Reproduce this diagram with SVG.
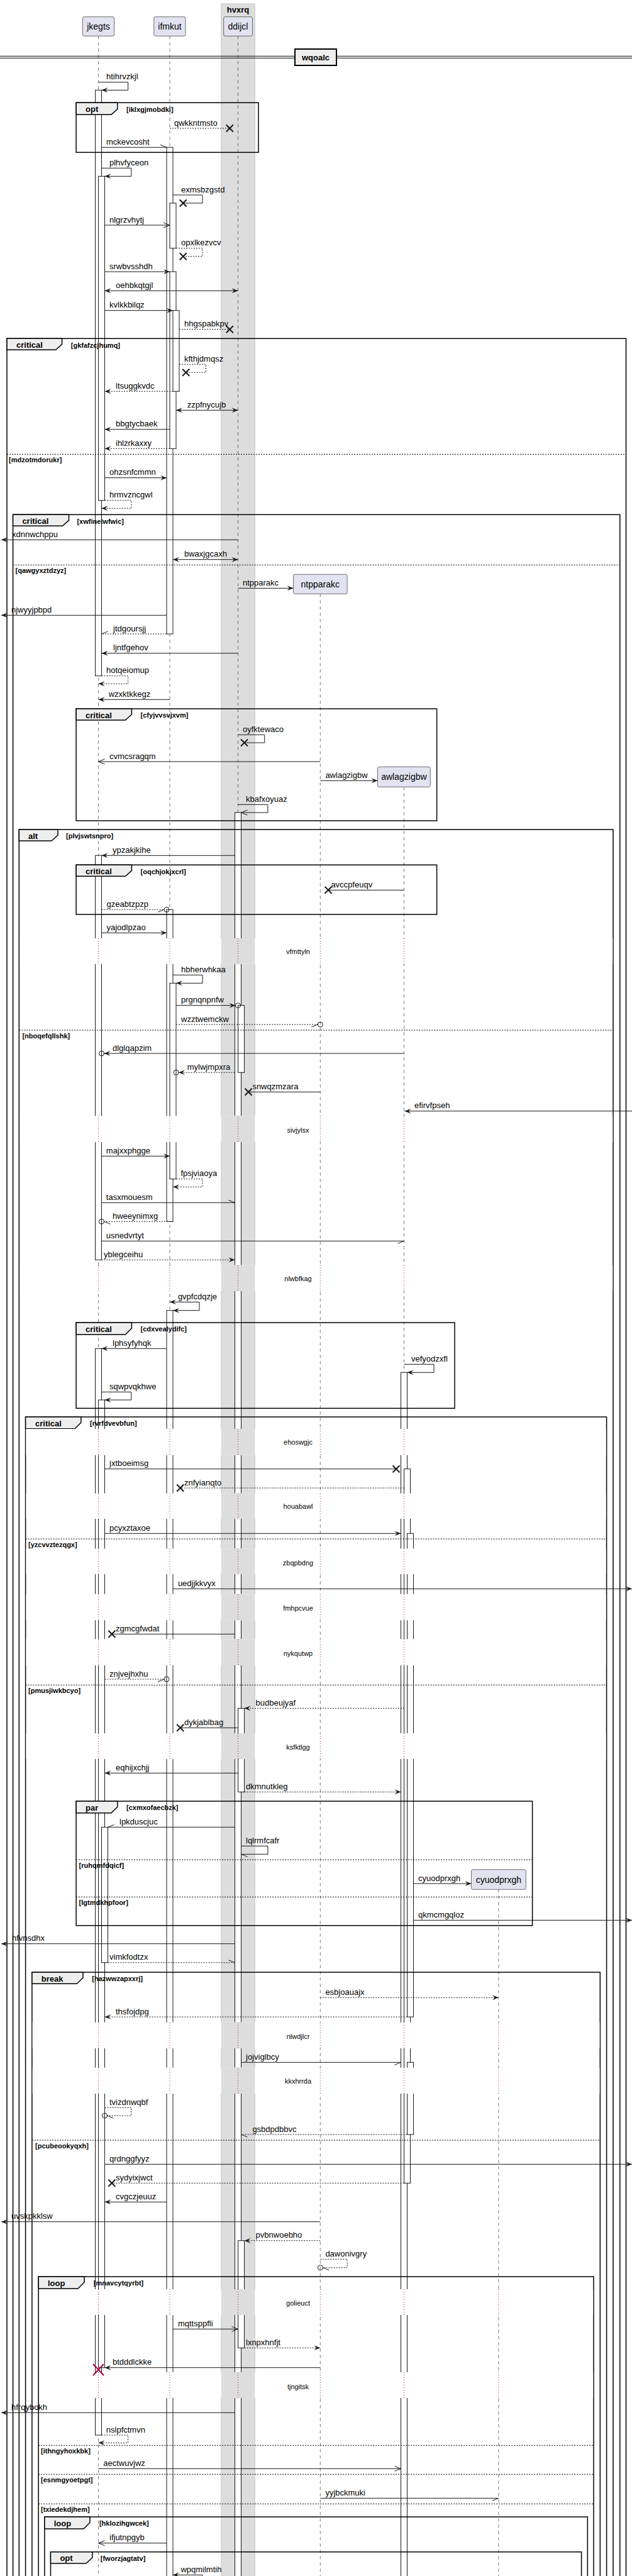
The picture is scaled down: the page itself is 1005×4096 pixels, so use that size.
<svg xmlns="http://www.w3.org/2000/svg" xmlns:xlink="http://www.w3.org/1999/xlink" width="1005" height="4096" viewBox="0 0 1005 4096">
<style>
.ll{stroke:#181818;stroke-width:.6;stroke-dasharray:5,5;fill:none}
.act{fill:#fff;stroke:#181818;stroke-width:1}
.m{fill:none;stroke:#181818;stroke-width:1}
.d{stroke-dasharray:2,2}
.fr{fill:none;stroke:#000;stroke-width:1.5}
.tab{fill:#EEEEEE;stroke:#000;stroke-width:1.5}
.sep{stroke:#000;stroke-width:1;stroke-dasharray:2,2}
.part{fill:#E2E2F0;stroke:#181818;stroke-width:.6}
.t{font-family:"Liberation Sans",Arial,sans-serif;font-size:13px;fill:#000}
.pn{font-size:14px;text-anchor:middle}
.ft{font-weight:bold;font-size:13px}
.fc{font-weight:bold;font-size:11px}
.dt{font-size:11px;text-anchor:middle}
.dly{stroke:#A80036;stroke-width:1;stroke-dasharray:1,3}
.circ{fill:none;stroke:#181818;stroke-width:1}
</style>
<defs>
<marker id="fa" markerWidth="12" markerHeight="10" refX="10" refY="4" orient="auto-start-reverse" markerUnits="userSpaceOnUse" overflow="visible"><path d="M0,0 L10,4 L0,8 L4,4 Z" fill="#181818" stroke="none"/></marker>
<marker id="oa" markerWidth="12" markerHeight="10" refX="10" refY="4" orient="auto" markerUnits="userSpaceOnUse" overflow="visible"><path d="M0,0 L10,4 L0,8" fill="none" stroke="#181818" stroke-width="1"/></marker>
<marker id="hn" markerWidth="12" markerHeight="10" refX="10" refY="4" orient="auto" markerUnits="userSpaceOnUse" overflow="visible"><path d="M0,0 L10,4" fill="none" stroke="#181818" stroke-width="1"/></marker>
<marker id="hp" markerWidth="12" markerHeight="10" refX="10" refY="4" orient="auto" markerUnits="userSpaceOnUse" overflow="visible"><path d="M0,8 L10,4" fill="none" stroke="#181818" stroke-width="1"/></marker>
<path id="xm" d="M-5.5,-5.5 L5.5,5.5 M-5.5,5.5 L5.5,-5.5" fill="none" stroke="#181818" stroke-width="2"/>
</defs>
<rect width="1005" height="4096" fill="#fff"/>
<g id="box-hvxrq">
<rect x="351.8" y="6" width="53.5" height="4200" fill="#DDDDDD" stroke="#C8C8C8" stroke-width="1"/>
<text class="t ft" x="378.5" y="19.5" text-anchor="middle">hvxrq</text>
</g>
<g id="lifelines">
<line class="ll" x1="156.5" y1="57.3" x2="156.5" y2="4200"/>
<line class="ll" x1="270" y1="57.3" x2="270" y2="4200"/>
<line class="ll" x1="378.5" y1="57.3" x2="378.5" y2="4200"/>
<line class="ll" x1="509.3" y1="944.3" x2="509.3" y2="4200"/>
<line class="ll" x1="642.5" y1="1251.3" x2="642.5" y2="4200"/>
<line class="ll" x1="792.9" y1="3004.3" x2="792.9" y2="4200"/>
</g>
<g id="divider-wqoalc">
<line x1="0" y1="89.3" x2="1005" y2="89.3" stroke="#000" stroke-width="1"/>
<line x1="0" y1="92.3" x2="1005" y2="92.3" stroke="#000" stroke-width="1"/>
<rect x="469" y="78" width="66" height="26" fill="#EEEEEE" stroke="#000" stroke-width="2"/>
<text class="t ft" x="502" y="96" text-anchor="middle">wqoalc</text>
</g>
<g id="activations">
<rect class="act" x="151.5" y="143.3" width="10" height="931.4"/>
<rect class="act" x="156.5" y="280.3" width="10" height="515.4"/>
<rect class="act" x="151.5" y="1360.3" width="10" height="643"/>
<rect class="act" x="151.5" y="2144.3" width="10" height="1727.7"/>
<rect class="act" x="156.5" y="2226" width="10" height="1538.7"/>
<rect class="act" x="161.5" y="2905.3" width="10" height="215.4"/>
<rect class="act" x="265" y="234.3" width="10" height="773.7"/>
<rect class="act" x="270" y="323" width="10" height="71.7"/>
<rect class="act" x="270" y="432" width="10" height="281.3"/>
<rect class="act" x="275" y="493.7" width="10" height="128.6"/>
<rect class="act" x="265" y="1446.3" width="10" height="496"/>
<rect class="act" x="270" y="1563.3" width="10" height="311.4"/>
<rect class="act" x="265" y="2083.7" width="10" height="2200"/>
<rect class="act" x="373.5" y="1292" width="10" height="2900"/>
<rect class="act" x="378.5" y="1598.7" width="10" height="106.6"/>
<rect class="act" x="378.5" y="2716.3" width="10" height="133"/>
<rect class="act" x="378.5" y="3562.7" width="10" height="170.6"/>
<rect class="act" x="637.5" y="2182.3" width="10" height="2100"/>
<rect class="act" x="642.5" y="2335.7" width="10" height="1135.6"/>
<rect class="act" x="647.5" y="2438.3" width="10" height="768.7"/>
<rect class="act" x="647.5" y="3279.3" width="10" height="114.7"/>
</g>
<g id="frames">
<g id="f-opt1"><rect class="fr" x="121.1" y="163.3" width="289.9" height="79"/><path class="tab" d="M121.1,163.3 H186.9 V173.3 L176.9,182.3 H121.1 Z"/><text class="t ft" x="136" y="178">opt</text><text class="t fc" x="201" y="177.5">[iklxgjmobdki]</text></g>
<g id="f-crit1"><rect class="fr" x="11" y="538.3" width="984.5" height="3700"/><path class="tab" d="M11,538.3 H98.6 V547.3 L88.6,556.3 H11 Z"/><text class="t ft" x="26" y="553">critical</text><text class="t fc" x="112.8" y="552.5">[gkfafzcjhumq]</text>
<line class="sep" x1="11" y1="722.3" x2="995.5" y2="722.3"/><text class="t fc" x="14" y="734.8">[mdzotmdorukr]</text></g>
<g id="f-crit2"><rect class="fr" x="20.6" y="818.3" width="965.2" height="3400"/><path class="tab" d="M20.6,818.3 H109.5 V827.3 L99.5,836.3 H20.6 Z"/><text class="t ft" x="35.4" y="833">critical</text><text class="t fc" x="122.4" y="832.5">[xwfinelwfwic]</text>
<line class="sep" x1="20.6" y1="898.3" x2="985.8" y2="898.3"/><text class="t fc" x="24.5" y="910.8">[qawgyxztdzyz]</text></g>
<g id="f-crit3"><rect class="fr" x="121.1" y="1127" width="573.5" height="178"/><path class="tab" d="M121.1,1127 H209.4 V1136 L199.4,1145 H121.1 Z"/><text class="t ft" x="136" y="1141.7">critical</text><text class="t fc" x="223.6" y="1141.2">[cfyjvvsvjxvm]</text></g>
<g id="f-alt"><rect class="fr" x="30.3" y="1319" width="944.7" height="2900"/><path class="tab" d="M30.3,1319 H92 V1328 L82,1337 H30.3 Z"/><text class="t ft" x="45" y="1333.7">alt</text><text class="t fc" x="105" y="1333.2">[plvjswtsnpro]</text>
<line class="sep" x1="30.3" y1="1638" x2="975" y2="1638"/><text class="t fc" x="35.4" y="1650.5">[nboqefqllshk]</text></g>
<g id="f-crit4"><rect class="fr" x="121.1" y="1375.3" width="573.5" height="78.7"/><path class="tab" d="M121.1,1375.3 H209.4 V1384.3 L199.4,1393.3 H121.1 Z"/><text class="t ft" x="136" y="1390">critical</text><text class="t fc" x="223.6" y="1389.5">[oqchjokjxcrl]</text></g>
<g id="f-crit5"><rect class="fr" x="121.1" y="2103" width="601.9" height="136.3"/><path class="tab" d="M121.1,2103 H209.4 V2112 L199.4,2122 H121.1 Z"/><text class="t ft" x="136" y="2117.7">critical</text><text class="t fc" x="223.6" y="2117.2">[cdxvealydifc]</text></g>
<g id="f-crit6"><rect class="fr" x="40.6" y="2253" width="924" height="2000"/><path class="tab" d="M40.6,2253 H128.9 V2262 L118.9,2271.7 H40.6 Z"/><text class="t ft" x="56" y="2267.7">critical</text><text class="t fc" x="143" y="2267.2">[rvrfdvevbfun]</text>
<line class="sep" x1="40.6" y1="2447" x2="964.6" y2="2447"/><text class="t fc" x="45" y="2459.5">[yzcvvztezqgx]</text>
<line class="sep" x1="40.6" y1="2679.3" x2="964.6" y2="2679.3"/><text class="t fc" x="45" y="2691.8">[pmusjiwkbcyo]</text></g>
<g id="f-par"><rect class="fr" x="121.1" y="2864" width="725.5" height="197.7"/><path class="tab" d="M121.1,2864 H186.9 V2873 L176.9,2882.7 H121.1 Z"/><text class="t ft" x="136" y="2878.7">par</text><text class="t fc" x="201" y="2878.2">[cxmxofaecbzk]</text>
<line class="sep" x1="121.1" y1="2957" x2="846.6" y2="2957"/><text class="t fc" x="125.6" y="2969.5">[ruhqmfdqicf]</text>
<line class="sep" x1="121.1" y1="3016.3" x2="846.6" y2="3016.3"/><text class="t fc" x="125.6" y="3028.8">[lgtmdkhpfoor]</text></g>
<g id="f-break"><rect class="fr" x="50.9" y="3136" width="903.4" height="1200"/><path class="tab" d="M50.9,3136 H132 V3145 L122,3154.3 H50.9 Z"/><text class="t ft" x="65.7" y="3150.7">break</text><text class="t fc" x="146.3" y="3150.2">[hazwwzapxxrj]</text>
<line class="sep" x1="50.9" y1="3403" x2="954.3" y2="3403"/><text class="t fc" x="56" y="3415.5">[pcubeookyqxh]</text></g>
<g id="f-loop1"><rect class="fr" x="61.2" y="3620" width="882.8" height="700"/><path class="tab" d="M61.2,3620 H134 V3629 L124,3639 H61.2 Z"/><text class="t ft" x="76" y="3634.7">loop</text><text class="t fc" x="148.8" y="3634.2">[mnavcytqyrbt]</text>
<line class="sep" x1="61.2" y1="3888.3" x2="944" y2="3888.3"/><text class="t fc" x="65" y="3900.8">[ithngyhoxkbk]</text>
<line class="sep" x1="61.2" y1="3934.3" x2="944" y2="3934.3"/><text class="t fc" x="65" y="3946.8">[esnmgyoetpgt]</text>
<line class="sep" x1="61.2" y1="3981.3" x2="944" y2="3981.3"/><text class="t fc" x="65" y="3993.8">[txiedekdjhem]</text></g>
<g id="f-loop2"><rect class="fr" x="70.9" y="4002" width="863.4" height="300"/><path class="tab" d="M70.9,4002 H143 V4011 L133,4021 H70.9 Z"/><text class="t ft" x="85.7" y="4016.7">loop</text><text class="t fc" x="157.9" y="4016.2">[hklozihgwcek]</text></g>
<g id="f-opt2"><rect class="fr" x="80.5" y="4057.7" width="844.1" height="300"/><path class="tab" d="M80.5,4057.7 H146.9 V4066.7 L136.9,4076 H80.5 Z"/><text class="t ft" x="95.4" y="4072.4">opt</text><text class="t fc" x="159.8" y="4071.9">[fworzjagtatv]</text></g>
</g>
<g id="delays">
<g><rect x="31" y="1492" width="943.3" height="40.7" fill="#fff"/><rect x="351.8" y="1492" width="53.5" height="40.7" fill="#DDDDDD"/><path class="dly" d="M156.5,1492V1532.7M270,1492V1532.7M378.5,1492V1532.7M509.3,1492V1532.7M642.5,1492V1532.7"/><text class="t dt" x="474" y="1517">vfmttyln</text></g>
<g><rect x="31" y="1774.3" width="943.3" height="41.7" fill="#fff"/><rect x="351.8" y="1774.3" width="53.5" height="41.7" fill="#DDDDDD"/><path class="dly" d="M156.5,1774.3V1816M270,1774.3V1816M378.5,1774.3V1816M509.3,1774.3V1816M642.5,1774.3V1816"/><text class="t dt" x="474" y="1800.5">sivjylsx</text></g>
<g><rect x="31" y="2011.7" width="943.3" height="41.3" fill="#fff"/><rect x="351.8" y="2011.7" width="53.5" height="41.3" fill="#DDDDDD"/><path class="dly" d="M156.5,2011.7V2053M270,2011.7V2053M378.5,2011.7V2053M509.3,2011.7V2053M642.5,2011.7V2053"/><text class="t dt" x="474" y="2037">nlwbfkag</text></g>
<g><rect x="41.4" y="2272" width="922.4" height="41.7" fill="#fff"/><rect x="351.8" y="2272" width="53.5" height="41.7" fill="#DDDDDD"/><path class="dly" d="M156.5,2272V2313.7M270,2272V2313.7M378.5,2272V2313.7M509.3,2272V2313.7M642.5,2272V2313.7"/><text class="t dt" x="474" y="2296.5">ehoswgjc</text></g>
<g><rect x="41.4" y="2374.7" width="922.4" height="40.3" fill="#fff"/><rect x="351.8" y="2374.7" width="53.5" height="40.3" fill="#DDDDDD"/><path class="dly" d="M156.5,2374.7V2415M270,2374.7V2415M378.5,2374.7V2415M509.3,2374.7V2415M642.5,2374.7V2415"/><text class="t dt" x="474" y="2399">houabawl</text></g>
<g><rect x="41.4" y="2462.3" width="922.4" height="40.7" fill="#fff"/><rect x="351.8" y="2462.3" width="53.5" height="40.7" fill="#DDDDDD"/><path class="dly" d="M156.5,2462.3V2503M270,2462.3V2503M378.5,2462.3V2503M509.3,2462.3V2503M642.5,2462.3V2503"/><text class="t dt" x="474" y="2489">zbqpbdng</text></g>
<g><rect x="41.4" y="2534.7" width="922.4" height="41.6" fill="#fff"/><rect x="351.8" y="2534.7" width="53.5" height="41.6" fill="#DDDDDD"/><path class="dly" d="M156.5,2534.7V2576.3M270,2534.7V2576.3M378.5,2534.7V2576.3M509.3,2534.7V2576.3M642.5,2534.7V2576.3"/><text class="t dt" x="474" y="2560.5">fmhpcvue</text></g>
<g><rect x="41.4" y="2606.3" width="922.4" height="41.7" fill="#fff"/><rect x="351.8" y="2606.3" width="53.5" height="41.7" fill="#DDDDDD"/><path class="dly" d="M156.5,2606.3V2648M270,2606.3V2648M378.5,2606.3V2648M509.3,2606.3V2648M642.5,2606.3V2648"/><text class="t dt" x="474" y="2633">nykqutwp</text></g>
<g><rect x="41.4" y="2756" width="922.4" height="41" fill="#fff"/><rect x="351.8" y="2756" width="53.5" height="41" fill="#DDDDDD"/><path class="dly" d="M156.5,2756V2797M270,2756V2797M378.5,2756V2797M509.3,2756V2797M642.5,2756V2797"/><text class="t dt" x="474" y="2781.5">ksfktlgg</text></g>
<g><rect x="51.7" y="3215.7" width="901.8" height="41.3" fill="#fff"/><rect x="351.8" y="3215.7" width="53.5" height="41.3" fill="#DDDDDD"/><path class="dly" d="M156.5,3215.7V3257M270,3215.7V3257M378.5,3215.7V3257M509.3,3215.7V3257M642.5,3215.7V3257M792.9,3215.7V3257"/><text class="t dt" x="474" y="3241.5">nlwdjlcr</text></g>
<g><rect x="51.7" y="3287.7" width="901.8" height="41.3" fill="#fff"/><rect x="351.8" y="3287.7" width="53.5" height="41.3" fill="#DDDDDD"/><path class="dly" d="M156.5,3287.7V3329M270,3287.7V3329M378.5,3287.7V3329M509.3,3287.7V3329M642.5,3287.7V3329M792.9,3287.7V3329"/><text class="t dt" x="474" y="3313">kkxhrrda</text></g>
<g><rect x="62" y="3640" width="881.2" height="41" fill="#fff"/><rect x="351.8" y="3640" width="53.5" height="41" fill="#DDDDDD"/><path class="dly" d="M156.5,3640V3681M270,3640V3681M378.5,3640V3681M509.3,3640V3681M642.5,3640V3681M792.9,3640V3681"/><text class="t dt" x="474" y="3665.5">golieuct</text></g>
<g><rect x="62" y="3772" width="881.2" height="41" fill="#fff"/><rect x="351.8" y="3772" width="53.5" height="41" fill="#DDDDDD"/><path class="dly" d="M156.5,3772V3813M270,3772V3813M378.5,3772V3813M509.3,3772V3813M642.5,3772V3813M792.9,3772V3813"/><text class="t dt" x="474" y="3798.5">tjngitsk</text></g>
</g>
<g id="participants">
<g id="p-jkegts"><rect class="part" x="131.4" y="26.7" width="50.3" height="30.6" rx="2.5"/><text class="t pn" x="156.5" y="47">jkegts</text></g>
<g id="p-ifmkut"><rect class="part" x="244.8" y="26.7" width="50.2" height="30.6" rx="2.5"/><text class="t pn" x="270" y="47">ifmkut</text></g>
<g id="p-ddijcl"><rect class="part" x="355.7" y="26.7" width="45.7" height="30.6" rx="2.5"/><text class="t pn" x="378.5" y="47">ddijcl</text></g>
<g id="p-ntpparakc"><rect class="part" x="466.5" y="913.3" width="85.7" height="31" rx="2.5"/><text class="t pn" x="509.3" y="933.8">ntpparakc</text></g>
<g id="p-awlagzigbw"><rect class="part" x="600.5" y="1219.3" width="83.8" height="32" rx="2.5"/><text class="t pn" x="642.4" y="1240.3">awlagzigbw</text></g>
<g id="p-cyuodprxgh"><rect class="part" x="749.4" y="2972.7" width="86.9" height="31.6" rx="2.5"/><text class="t pn" x="792.9" y="2993.5">cyuodprxgh</text></g>
</g>
<g id="connectors">
<path class="m" d="M156.5,130.7 H203.6 V143.3 H161.5" marker-end="url(#fa)"/><text class="t" x="169" y="126.2">htihrvzkjl</text>
<path class="m d" d="M270,204 H365.3"/><use href="#xm" x="365.3" y="204"/><text class="t" x="277" y="199.5">qwkkntmsto</text>
<path class="m" d="M161.5,234.3 H265" marker-end="url(#hn)"/><text class="t" x="169" y="229.8">mckevcosht</text>
<path class="m" d="M161.5,267.3 H208.8 V280.3 H166.5" marker-end="url(#fa)"/><text class="t" x="174" y="262.8">plhvfyceon</text>
<path class="m" d="M275,310 H322 V323 H291.2"/><use href="#xm" x="291.2" y="323"/><text class="t" x="288" y="305.5">exmsbzgstd</text>
<path class="m" d="M166.5,358 H270" marker-end="url(#oa)"/><text class="t" x="174" y="353.5">nlgrzvhytj</text>
<path class="m d" d="M280,394.7 H322 V407.7 H291.2"/><use href="#xm" x="291.2" y="407.7"/><text class="t" x="288" y="390.2">opxlkezvcv</text>
<path class="m" d="M166.5,432 H270" marker-end="url(#fa)"/><text class="t" x="174" y="427.5">srwbvsshdh</text>
<path class="m" d="M166.5,462.3 H378.5" marker-start="url(#fa)" marker-end="url(#fa)"/><text class="t" x="184" y="457.8">oehbkqtgjl</text>
<path class="m" d="M166.5,493.7 H275" marker-end="url(#fa)"/><text class="t" x="174" y="489.2">kvlkkbilqz</text>
<path class="m d" d="M285,523.7 H365.3"/><use href="#xm" x="365.3" y="523.7"/><text class="t" x="293" y="519.2">hhgspabkpv</text>
<path class="m d" d="M285,579.3 H327.3 V592.3 H295.7"/><use href="#xm" x="295.7" y="592.3"/><text class="t" x="293" y="574.8">kfthjdmqsz</text>
<path class="m d" d="M275,622.3 H166.5" marker-end="url(#fa)"/><text class="t" x="184" y="617.8">ltsuggkvdc</text>
<path class="m" d="M280,652.3 H378.5" marker-start="url(#fa)" marker-end="url(#fa)"/><text class="t" x="297.7" y="647.8">zzpfnycujb</text>
<path class="m" d="M270,682.7 H166.5" marker-end="url(#fa)"/><text class="t" x="184" y="678.2">bbgtycbaek</text>
<path class="m d" d="M270,713.3 H166.5" marker-end="url(#fa)"/><text class="t" x="184" y="708.8">ihlzrkaxxy</text>
<path class="m" d="M166.5,759.7 H265" marker-end="url(#fa)"/><text class="t" x="174" y="755.2">ohzsnfcmmn</text>
<path class="m d" d="M166.5,795.7 H208.8 V808.3 H161.5" marker-end="url(#fa)"/><text class="t" x="174" y="791.2">hrmvzncgwl</text>
<path class="m" d="M378.5,858.3 H2" marker-end="url(#fa)"/><text class="t" x="19" y="853.8">xdnnwchppu</text>
<path class="m" d="M275,889.7 H378.5" marker-start="url(#fa)" marker-end="url(#fa)"/><text class="t" x="293" y="885.2">bwaxjgcaxh</text>
<path class="m" d="M378.5,935.3 H466.5" marker-end="url(#fa)"/><text class="t" x="386" y="930.8">ntpparakc</text>
<path class="m" d="M265,978.3 H2" marker-end="url(#fa)"/><text class="t" x="18" y="973.8">njwyyjpbpd</text>
<path class="m d" d="M265,1008 H161.5" marker-end="url(#hp)"/><text class="t" x="180" y="1003.5">jtdgoursjj</text>
<path class="m" d="M378.5,1038.7 H161.5" marker-end="url(#fa)"/><text class="t" x="180" y="1034.2">ljntfgehov</text>
<path class="m d" d="M161.5,1074.7 H203.6 V1087.3 H156.5" marker-end="url(#fa)"/><text class="t" x="169" y="1070.2">hotqeiomup</text>
<path class="m" d="M270,1112.3 H156.5" marker-end="url(#fa)"/><text class="t" x="172.7" y="1107.8">wzxktkkegz</text>
<path class="m" d="M378.5,1168.3 H420.7 V1181 H388.5"/><use href="#xm" x="388.5" y="1181"/><text class="t" x="386" y="1163.8">oyfktewaco</text>
<path class="m" d="M509.3,1211 H156.5" marker-end="url(#oa)"/><text class="t" x="174" y="1206.5">cvmcsragqm</text>
<path class="m" d="M509.3,1241.3 H600.5" marker-end="url(#fa)"/><text class="t" x="517.4" y="1236.8">awlagzigbw</text>
<path class="m" d="M378.5,1279.3 H425.9 V1292 H383.5" marker-end="url(#oa)"/><text class="t" x="391" y="1274.8">kbafxoyuaz</text>
<path class="m" d="M373.5,1360.3 H161.5" marker-end="url(#fa)"/><text class="t" x="179" y="1355.8">ypzakjkihe</text>
<path class="m" d="M642.5,1415.3 H522"/><use href="#xm" x="522" y="1415.3"/><text class="t" x="526.4" y="1410.8">avccpfeuqv</text>
<path class="m d" d="M161.5,1446.3 H261" marker-end="url(#hp)"/><circle class="circ" cx="265" cy="1446.3" r="4"/><text class="t" x="169.5" y="1441.8">gzeabtzpzp</text>
<path class="m" d="M161.5,1483.3 H265" marker-end="url(#fa)"/><text class="t" x="169.5" y="1478.8">yajodlpzao</text>
<path class="m" d="M275,1550.3 H322 V1563.3 H280" marker-end="url(#fa)"/><text class="t" x="288" y="1545.8">hbherwhkaa</text>
<path class="m" d="M280,1598.7 H374.5" marker-end="url(#fa)"/><circle class="circ" cx="378.5" cy="1598.7" r="4"/><text class="t" x="288" y="1594.2">prgnqnpnfw</text>
<path class="m d" d="M280,1629 H505.3" marker-end="url(#hp)"/><circle class="circ" cx="509.3" cy="1629" r="4"/><text class="t" x="288" y="1624.5">wzztwemckw</text>
<path class="m" d="M642.5,1675 H165.5" marker-end="url(#fa)"/><circle class="circ" cx="161.5" cy="1675" r="4"/><text class="t" x="179" y="1670.5">dlglqapzim</text>
<path class="m d" d="M373.5,1705.3 H284" marker-end="url(#fa)"/><circle class="circ" cx="280" cy="1705.3" r="4"/><text class="t" x="297.7" y="1700.8">mylwjmpxra</text>
<path class="m" d="M509.3,1736.3 H395"/><use href="#xm" x="395" y="1736.3"/><text class="t" x="401.4" y="1731.8">snwqzmzara</text>
<path class="m" d="M1005,1766.7 H643.5" marker-end="url(#fa)"/><text class="t" x="659" y="1762.2">efirvfpseh</text>
<path class="m" d="M161.5,1838.3 H270" marker-end="url(#fa)"/><text class="t" x="168.8" y="1833.8">majxxphgge</text>
<path class="m d" d="M280,1874.7 H322 V1887.3 H275" marker-end="url(#fa)"/><text class="t" x="287.4" y="1870.2">fpsjviaoya</text>
<path class="m" d="M161.5,1912.3 H373.5" marker-end="url(#hn)"/><text class="t" x="168.8" y="1907.8">tasxmouesm</text>
<path class="m d" d="M275,1942.3 H165.5" marker-end="url(#hn)"/><circle class="circ" cx="161.5" cy="1942.3" r="4"/><text class="t" x="179" y="1937.8">hweeynimxg</text>
<path class="m" d="M161.5,1973.3 H642.5" marker-end="url(#hp)"/><text class="t" x="168.8" y="1968.8">usnedvrtyt</text>
<path class="m d" d="M161.5,2003.3 H373.5" marker-end="url(#fa)"/><text class="t" x="165" y="1998.8">yblegceihu</text>
<path class="m" d="M270,2070.3 H317 V2083.7 H275" marker-start="url(#fa)" marker-end="url(#fa)"/><text class="t" x="282.9" y="2065.8">gvpfcdqzje</text>
<path class="m" d="M265,2144.3 H161.5" marker-end="url(#fa)"/><text class="t" x="179" y="2139.8">lphsyfyhqk</text>
<path class="m" d="M642.5,2169.3 H690 V2182.3 H647.5" marker-end="url(#fa)"/><text class="t" x="654" y="2164.8">vefyodzxfl</text>
<path class="m" d="M161.5,2213.3 H208.8 V2226 H166.5" marker-end="url(#fa)"/><text class="t" x="174" y="2208.8">sqwpvqkhwe</text>
<path class="m" d="M166.5,2335.7 H630"/><use href="#xm" x="630" y="2335.7"/><text class="t" x="174" y="2331.2">jxtboeimsg</text>
<path class="m d" d="M642.5,2366 H286.7"/><use href="#xm" x="286.7" y="2366"/><text class="t" x="293" y="2361.5">znfyianqto</text>
<path class="m" d="M166.5,2438.3 H637.5" marker-end="url(#fa)"/><text class="t" x="174" y="2433.8">pcyxztaxoe</text>
<path class="m" d="M275,2526.3 H1005" marker-end="url(#fa)"/><text class="t" x="282.9" y="2521.8">uedjjkkvyx</text>
<path class="m" d="M373.5,2598.3 H177.8"/><use href="#xm" x="177.8" y="2598.3"/><text class="t" x="184" y="2593.8">zgmcgfwdat</text>
<path class="m d" d="M166.5,2670 H261" marker-end="url(#hp)"/><circle class="circ" cx="265" cy="2670" r="4"/><text class="t" x="174" y="2665.5">znjvejhxhu</text>
<path class="m d" d="M643,2716.3 H388.5" marker-end="url(#fa)"/><text class="t" x="406.6" y="2711.8">budbeujyaf</text>
<path class="m" d="M378.5,2747.3 H286.7"/><use href="#xm" x="286.7" y="2747.3"/><text class="t" x="293" y="2742.8">dykjablbag</text>
<path class="m" d="M378.5,2819.3 H166.5" marker-end="url(#fa)"/><text class="t" x="184" y="2814.8">eqhijxchjj</text>
<path class="m d" d="M388.5,2849.3 H637.5" marker-end="url(#fa)"/><text class="t" x="391" y="2844.8">dkmnutkleg</text>
<path class="m" d="M373.5,2905.3 H171.5" marker-end="url(#hp)"/><text class="t" x="190" y="2900.8">lpkduscjuc</text>
<path class="m" d="M383.5,2935.3 H425.9 V2948.3 H383.5" marker-end="url(#hn)"/><text class="t" x="391" y="2930.8">lqlrmfcafr</text>
<path class="m" d="M657.5,2995 H749.4" marker-end="url(#fa)"/><text class="t" x="665" y="2990.5">cyuodprxgh</text>
<path class="m" d="M657.5,3053.3 H1005" marker-end="url(#fa)"/><text class="t" x="665" y="3048.8">qkmcmgqloz</text>
<path class="m" d="M373.5,3090.7 H2" marker-end="url(#fa)"/><text class="t" x="19" y="3086.2">hfvnsdhx</text>
<path class="m d" d="M171.5,3120.7 H373.5" marker-end="url(#hn)"/><text class="t" x="174" y="3116.2">vimkfodtzx</text>
<path class="m d" d="M509.3,3176.3 H792.9" marker-end="url(#fa)"/><text class="t" x="517.4" y="3171.8">esbjoauajx</text>
<path class="m d" d="M647.5,3207 H166.5" marker-end="url(#fa)"/><text class="t" x="184" y="3202.5">thsfojdpg</text>
<path class="m" d="M383.5,3279.3 H637.5" marker-end="url(#hp)"/><text class="t" x="391" y="3274.8">jojviglbcy</text>
<path class="m d" d="M166.5,3351.3 H208.8 V3364 H170.5" marker-end="url(#hn)"/><circle class="circ" cx="166.5" cy="3364" r="4"/><text class="t" x="174" y="3346.8">tvizdnwqbf</text>
<path class="m d" d="M647.5,3394 H383.5" marker-end="url(#hn)"/><text class="t" x="401.4" y="3389.5">gsbdpdbbvc</text>
<path class="m" d="M166.5,3441.3 H1005" marker-end="url(#fa)"/><text class="t" x="174" y="3436.8">qrdnggfyyz</text>
<path class="m d" d="M642.5,3471.3 H177.8"/><use href="#xm" x="177.8" y="3471.3"/><text class="t" x="184" y="3466.8">sydyixjwct</text>
<path class="m" d="M265,3501.3 H166.5" marker-end="url(#fa)"/><text class="t" x="184" y="3496.8">cvgczjeuuz</text>
<path class="m" d="M509.3,3532.7 H2" marker-end="url(#fa)"/><text class="t" x="18" y="3528.2">uvskpkklsw</text>
<path class="m d" d="M509.3,3562.7 H388.5" marker-end="url(#fa)"/><text class="t" x="406.6" y="3558.2">pvbnwoebho</text>
<path class="m d" d="M509.3,3592.3 H552.2 V3605.7 H513.3" marker-end="url(#hn)"/><circle class="circ" cx="509.3" cy="3605.7" r="4"/><text class="t" x="517.4" y="3587.8">dawonivgry</text>
<path class="m" d="M275,3703.3 H378.5" marker-end="url(#oa)"/><text class="t" x="282.9" y="3698.8">mqttsppfli</text>
<path class="m d" d="M388.5,3733.3 H509.3" marker-end="url(#fa)"/><text class="t" x="391" y="3728.8">lxnpxhnfjt</text>
<path class="m" d="M509.3,3764.7 H166.5" marker-end="url(#fa)"/><path d="M148,3759 L165,3777 M148,3777 L165,3759" stroke="#A80036" stroke-width="2" fill="none"/><text class="t" x="179" y="3760.2">btdddlckke</text>
<path class="m" d="M373.5,3836.3 H2" marker-end="url(#fa)"/><text class="t" x="18" y="3831.8">hfrqybokh</text>
<path class="m d" d="M161.5,3872 H203.6 V3884.3 H156.5" marker-end="url(#fa)"/><text class="t" x="168.8" y="3867.5">nslpfctmvn</text>
<path class="m" d="M156.5,3925.3 H637.5" marker-end="url(#oa)"/><text class="t" x="164.3" y="3920.8">aectwuvjwz</text>
<path class="m" d="M509.3,3972.3 H792.9" marker-end="url(#hp)"/><text class="t" x="517.4" y="3967.8">yyjbckmuki</text>
<path class="m" d="M265,4043.7 H156.5" marker-end="url(#oa)"/><text class="t" x="174" y="4039.2">ifjutnpgyb</text>
<path class="m" d="M275,4094.3 H322 V4107 H280" marker-start="url(#fa)" marker-end="url(#fa)"/><text class="t" x="287.4" y="4089.5">wpqmilmtih</text>
</g>
</svg>
